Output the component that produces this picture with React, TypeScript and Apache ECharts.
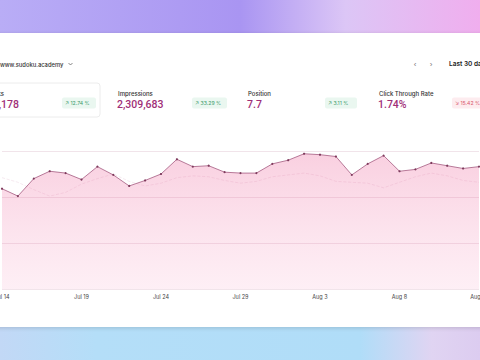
import React, { useEffect, useRef } from "react";
import * as echarts from "echarts";

const days = [
  "Jul 14", "Jul 15", "Jul 16", "Jul 17", "Jul 18", "Jul 19", "Jul 20", "Jul 21", "Jul 22", "Jul 23",
  "Jul 24", "Jul 25", "Jul 26", "Jul 27", "Jul 28", "Jul 29", "Jul 30", "Jul 31", "Aug 1", "Aug 2",
  "Aug 3", "Aug 4", "Aug 5", "Aug 6", "Aug 7", "Aug 8", "Aug 9", "Aug 10", "Aug 11", "Aug 12", "Aug 13",
];
const clicks = [
  109, 101, 120, 128, 126, 119, 133, 124, 112, 118,
  125, 141, 133, 134, 127, 126, 126, 136, 140, 147,
  146, 144, 124, 136, 145, 128, 130, 137, 134, 131, 133,
];
const previousClicks = [
  121, 116, 108, 101, 105, 114, 120, 125, 117, 112,
  115, 121, 123, 122, 118, 115, 117, 122, 124, 126,
  123, 117, 116, 115, 110, 116, 122, 126, 123, 118, 116,
];
const metricLabels = ["Clicks", "Impressions", "Position", "Click Through Rate"];
const metricValues = ["4,178", "2,309,683", "7.7", "1.74%"];
const metricChanges = ["↗ 12.74 %", "↗ 33.29 %", "↗ 3.11 %", "↘ 15.42 %"];
const metricUp = [true, true, true, false];

export default function App() {
  const ref = useRef<HTMLDivElement>(null);
  useEffect(() => {
    if (!ref.current) return;
    const chart = echarts.init(ref.current, undefined, { renderer: "svg" });
    const font = "Inter, 'Noto Sans', sans-serif";
    const labelX = [4, 118, 248, 379];
    const labelAlign: any[] = ["right", "left", "left", "left"];
    const badgeX = [62, 192, 325, 452];
    const badgeW = [34, 35, 32, 40];
    const graphics: any[] = [
      {
        type: "rect", z: -10, shape: { x: 0, y: 0, width: 480, height: 40 },
        style: {
          fill: new echarts.graphic.LinearGradient(0, 0, 1, 0, [
            { offset: 0, color: "#b9adf6" },
            { offset: 0.5, color: "#a995f2" },
            { offset: 0.72, color: "#dcc6f6" },
            { offset: 1, color: "#f0aeee" },
          ]),
        },
      },
      {
        type: "rect", z: -10, shape: { x: 0, y: 320, width: 480, height: 40 },
        style: {
          fill: new echarts.graphic.LinearGradient(0, 0, 1, 0, [
            { offset: 0, color: "#c2d8f6" },
            { offset: 0.2, color: "#b4def8" },
            { offset: 0.75, color: "#b0ddf8" },
            { offset: 0.9, color: "#e0d4f2" },
            { offset: 1, color: "#dcccf0" },
          ]),
        },
      },
      {
        type: "rect", z: -9, shape: { x: -10, y: 33, width: 500, height: 294 },
        style: { fill: "#ffffff", shadowBlur: 4, shadowColor: "rgba(0,0,0,0.15)", shadowOffsetY: 1 },
      },
      {
        type: "text", x: 0, y: 64,
        style: { text: "www.sudoku.academy", font: `500 5.8px ${font}`, fill: "#333", textVerticalAlign: "middle" },
      },
      {
        type: "polyline", shape: { points: [[68.5, 63], [70.5, 65], [72.5, 63]] },
        style: { stroke: "#555", lineWidth: 0.7, fill: null },
      },
      { type: "text", x: 415, y: 64, style: { text: "‹", fontSize: 8, fill: "#777", textAlign: "center", textVerticalAlign: "middle" } },
      { type: "text", x: 431, y: 64, style: { text: "›", fontSize: 8, fill: "#777", textAlign: "center", textVerticalAlign: "middle" } },
      {
        type: "text", x: 449, y: 64,
        style: { text: "Last 30 days", font: `600 6.5px ${font}`, fill: "#222", textVerticalAlign: "middle" },
      },
      {
        type: "rect", z: -5, shape: { x: -6, y: 83, width: 106, height: 34, r: 3 },
        style: { fill: "#fff", stroke: "#ececec", lineWidth: 1 },
      },
    ];
    metricLabels.forEach((lab, i) => {
      graphics.push({
        type: "text", x: labelX[i], y: 93,
        style: { text: lab, font: `500 6px ${font}`, fill: "#333", textAlign: labelAlign[i], textVerticalAlign: "middle" },
      });
      graphics.push({
        type: "text", x: i === 0 ? 19 : labelX[i] - 1, y: 104,
        style: {
          text: metricValues[i], font: `500 10.5px Roboto, sans-serif`, fill: "#9f2f78",
          textAlign: i === 0 ? "right" : "left", textVerticalAlign: "middle",
        },
      });
      graphics.push({
        type: "rect", shape: { x: badgeX[i], y: 97.5, width: badgeW[i], height: 11, r: 2 },
        style: { fill: metricUp[i] ? "#eaf7f0" : "#fdecef" },
      });
      graphics.push({
        type: "text", x: badgeX[i] + 3, y: 103,
        style: {
          text: metricChanges[i], font: `400 5.2px ${font}`,
          fill: metricUp[i] ? "#3d9b6c" : "#d9566c", textVerticalAlign: "middle",
        },
      });
    });

    chart.setOption({
      animation: false,
      backgroundColor: "#fff",
      graphic: graphics,
      grid: { left: 2, right: 1, top: 151, bottom: 71, containLabel: false, outerBoundsMode: "none" },
      xAxis: {
        type: "category",
        data: days,
        boundaryGap: false,
        axisLine: { show: false },
        axisTick: { show: false },
        axisLabel: {
          interval: 4, fontSize: 5.5, color: "#444", margin: 5,
          fontFamily: font, showMaxLabel: true, hideOverlap: false,
        },
      },
      yAxis: {
        type: "value", min: 0, max: 150, interval: 50,
        axisLabel: { show: false }, axisLine: { show: false }, axisTick: { show: false },
        splitLine: { lineStyle: { color: "#f1e4ea", width: 1 } },
      },
      series: [
        {
          type: "line",
          data: previousClicks,
          symbol: "none",
          lineStyle: { color: "rgba(210,150,180,0.25)", width: 0.8, type: "dashed" },
          z: 1,
        },
        {
          type: "line",
          data: clicks,
          symbol: "circle",
          symbolSize: 2.2,
          itemStyle: { color: "#7e3a5c" },
          lineStyle: { color: "#a45a80", width: 0.8 },
          areaStyle: {
            color: new echarts.graphic.LinearGradient(0, 0, 0, 1, [
              { offset: 0, color: "rgba(236,95,150,0.42)" },
              { offset: 1, color: "rgba(245,140,185,0.2)" },
            ]),
          },
          z: 2,
        },
      ],
    });
    return () => chart.dispose();
  }, []);
  return <div ref={ref} style={{ position: "fixed", left: 0, top: 0, width: 480, height: 360 }} />;
}
